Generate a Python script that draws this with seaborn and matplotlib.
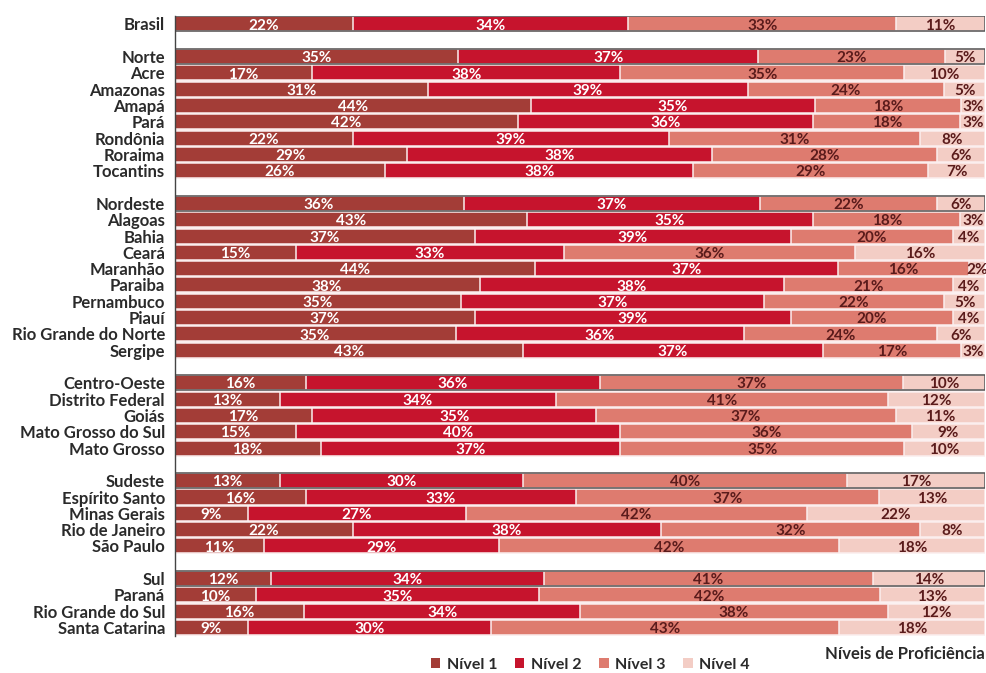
import numpy as np
import pandas as pd
import matplotlib
matplotlib.use("Agg")
import matplotlib.pyplot as plt
from matplotlib.patches import Patch
import seaborn as sns

# Proficiency levels (%) per region / state
labels = [
    "Brasil",
    "Norte", "Acre", "Amazonas", "Amapá", "Pará", "Rondônia", "Roraima", "Tocantins",
    "Nordeste", "Alagoas", "Bahia", "Ceará", "Maranhão", "Paraiba", "Pernambuco", "Piauí",
    "Rio Grande do Norte", "Sergipe",
    "Centro-Oeste", "Distrito Federal", "Goiás", "Mato Grosso do Sul", "Mato Grosso",
    "Sudeste", "Espírito Santo", "Minas Gerais", "Rio de Janeiro", "São Paulo",
    "Sul", "Paraná", "Rio Grande do Sul", "Santa Catarina",
]
nivel1 = [22, 35, 17, 31, 44, 42, 22, 29, 26, 36, 43, 37, 15, 44, 38, 35, 37, 35, 43,
          16, 13, 17, 15, 18, 13, 16, 9, 22, 11, 12, 10, 16, 9]
nivel2 = [34, 37, 38, 39, 35, 36, 39, 38, 38, 37, 35, 39, 33, 37, 38, 37, 39, 36, 37,
          36, 34, 35, 40, 37, 30, 33, 27, 38, 29, 34, 35, 34, 30]
nivel3 = [33, 23, 35, 24, 18, 18, 31, 28, 29, 22, 18, 20, 36, 16, 21, 22, 20, 24, 17,
          37, 41, 37, 36, 35, 40, 37, 42, 32, 42, 41, 42, 38, 43]
nivel4 = [11, 5, 10, 5, 3, 3, 8, 6, 7, 6, 3, 4, 16, 2, 4, 5, 4, 6, 3,
          10, 12, 11, 9, 10, 17, 13, 22, 8, 18, 14, 13, 12, 18]
aggregates = ["Brasil", "Norte", "Nordeste", "Centro-Oeste", "Sudeste", "Sul"]
level_names = ["Nível 1", "Nível 2", "Nível 3", "Nível 4"]

colors = ["#a33d37", "#c6142d", "#de7b6f", "#f3cdc5"]
text_colors = ["white", "white", "#5a1b1b", "#5a1b1b"]

# Row order with empty spacer rows between the groups
order = []
blank = 0
for lab in labels:
    if lab in aggregates and lab != "Brasil":
        blank += 1
        order.append(" " * blank)
    order.append(lab)
ypos = {lab: i for i, lab in enumerate(order)}

df = pd.DataFrame({"label": labels, "n1": nivel1, "n2": nivel2,
                   "n3": nivel3, "n4": nivel4})
vals = df[["n1", "n2", "n3", "n4"]].to_numpy(dtype=float)
share = vals / vals.sum(axis=1, keepdims=True)
cum = np.cumsum(share, axis=1)
for k in range(4):
    df[f"c{k}"] = cum[:, k]
    df[f"s{k}"] = share[:, k]

sns.set_theme(style="white")
plt.rcParams["font.family"] = ["Lato", "DejaVu Sans"]

fig = plt.figure(figsize=(9.87, 6.73), dpi=100)
ax = fig.add_axes([0.177, 0.0555, 0.821, 0.921])

# Stacked bars: cumulative totals drawn from the widest to the narrowest
for k in range(3, -1, -1):
    sns.barplot(data=df, x=f"c{k}", y="label", order=order, orient="h",
                color=colors[k], saturation=1, width=0.92, errorbar=None,
                edgecolor="#fbeeee", linewidth=1.1, ax=ax)

# Outline around the aggregate rows
agg_df = df[df["label"].isin(aggregates)]
sns.barplot(data=agg_df, x="c3", y="label", order=order, orient="h",
            fill=False, color="#555555", width=0.92, errorbar=None,
            linewidth=1.1, ax=ax)

# Value labels centred on each segment
for _, row in df.iterrows():
    y = ypos[row["label"]]
    for k in range(4):
        mid = row[f"c{k}"] - row[f"s{k}"] / 2
        ax.text(mid, y + 0.1, f"{int(row[f'n{k+1}'])}%", ha="center", va="center",
                fontsize=11, fontweight="bold", color=text_colors[k])

ax.set_xlim(0, 1)
ax.set_ylim(len(order) - 0.5, -0.5)
ax.set_xlabel("")
ax.set_ylabel("")
ax.set_xticks([])
ax.set_yticks(range(len(order)))
ax.set_yticklabels([o if o.strip() else "" for o in order],
                   fontsize=12, fontweight="bold", color="#2a2a2a")
ax.tick_params(axis="y", which="major", length=0, pad=7)
ax.set_yticks(np.arange(-0.5, len(order), 1.0), minor=True)
ax.tick_params(axis="y", which="minor", length=5, width=1.0, color="#444444",
               direction="out")
for side in ["top", "right", "bottom"]:
    ax.spines[side].set_visible(False)
ax.spines["left"].set_color("#444444")
ax.spines["left"].set_linewidth(1.0)

handles = [Patch(facecolor=c, edgecolor="none", label=n) for c, n in zip(colors, level_names)]
fig.legend(handles=handles, loc="center", ncol=4, frameon=False,
           bbox_to_anchor=(0.598, 1 - 665 / 673), handlelength=0.6, handleheight=0.6,
           handletextpad=0.4, columnspacing=1.1,
           prop={"family": ["Lato", "DejaVu Sans"], "weight": "bold", "size": 11.5})
for t in fig.legends[0].get_texts():
    t.set_color("#2a2a2a")

fig.text(0.998, 1 - 654 / 673, "Níveis de Proficiência", ha="right", va="center",
         fontsize=12, fontweight="bold", color="#2a2a2a")

fig.savefig("out.png", dpi=100, facecolor="white")
